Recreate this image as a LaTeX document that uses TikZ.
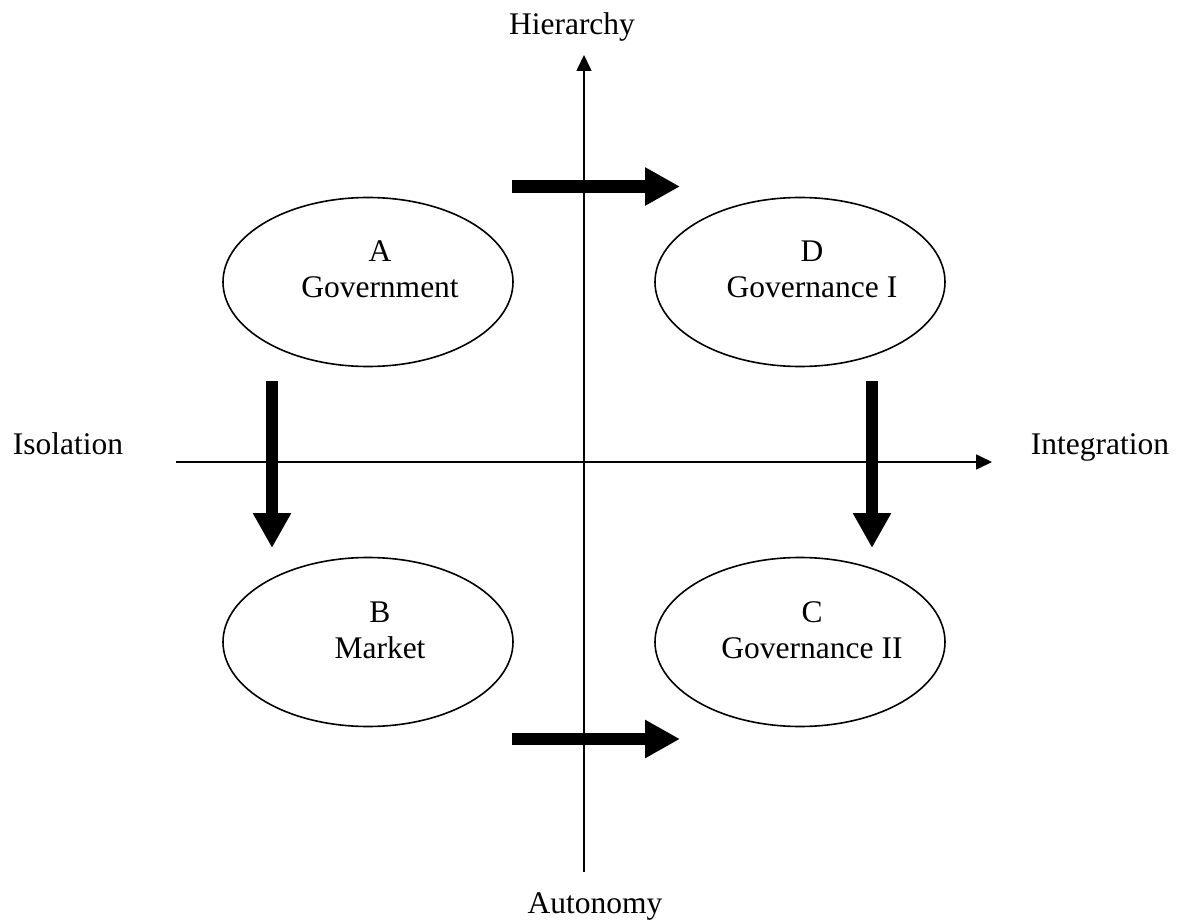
\documentclass[tikz,border=0pt]{standalone}
\usepackage{fontspec}
\setmainfont{Liberation Serif}
\usetikzlibrary{arrows.meta,shapes.geometric,calc}
\tikzset{
  oval/.style={draw,ellipse,line width=1.6pt,minimum width=290pt,minimum height=169pt,inner sep=0pt},
  lbl/.style={anchor=base,inner sep=0pt,font=\fontsize{31.5}{36}\selectfont},
  axis/.style={line width=1.7pt,-{Triangle[length=16pt,width=15pt]}},
  bigarrow/.style={line width=12.5pt,-{Triangle[length=35pt,width=36pt]}},
}
\begin{document}
\begin{tikzpicture}[x=1pt,y=-1pt]
\useasboundingbox (0,0) rectangle (1179,920);
% axes
\coordinate (vb) at (584,872);
\coordinate (vt) at (584,55);
\coordinate (hl) at (176,462);
\coordinate (hr) at (992,462);
\draw[axis] (vb) -- (vt);
\draw[axis] (hl) -- (hr);
% axis labels
\node[lbl] (hier) at (572,35) {Hierarchy};
\node[lbl] (auto) at (595,913) {Autonomy};
\node[lbl] (iso) at (68,454) {Isolation};
\node[lbl] (integ) at (1100,454) {Integration};
% ellipses
\node[oval] (A) at (368,282) {};
\node[oval] (D) at (800,282) {};
\node[oval] (B) at (368,642) {};
\node[oval] (C) at (800,642) {};
% texts
\node[lbl] (A1) at ($(A)+(12,-20)$) {A};
\node[lbl] (A2) at ($(A)+(12,16)$) {Government};
\node[lbl] (D1) at ($(D)+(12,-20)$) {D};
\node[lbl] (D2) at ($(D)+(12,16)$) {Governance I};
\node[lbl] (B1) at ($(B)+(12,-20)$) {B};
\node[lbl] (B2) at ($(B)+(12,16)$) {Market};
\node[lbl] (C1) at ($(C)+(12,-20)$) {C};
\node[lbl] (C2) at ($(C)+(12,16)$) {Governance II};
% block arrows
\coordinate (t1) at (512,186.5);
\coordinate (t2) at (680,186.5);
\coordinate (b1) at (512,739);
\coordinate (b2) at (680,739);
\coordinate (l1) at (272,381);
\coordinate (l2) at (272,548);
\coordinate (r1) at (872,381);
\coordinate (r2) at (872,548);
\draw[bigarrow] (t1) -- (t2);
\draw[bigarrow] (b1) -- (b2);
\draw[bigarrow] (l1) -- (l2);
\draw[bigarrow] (r1) -- (r2);
\end{tikzpicture}
\end{document}
